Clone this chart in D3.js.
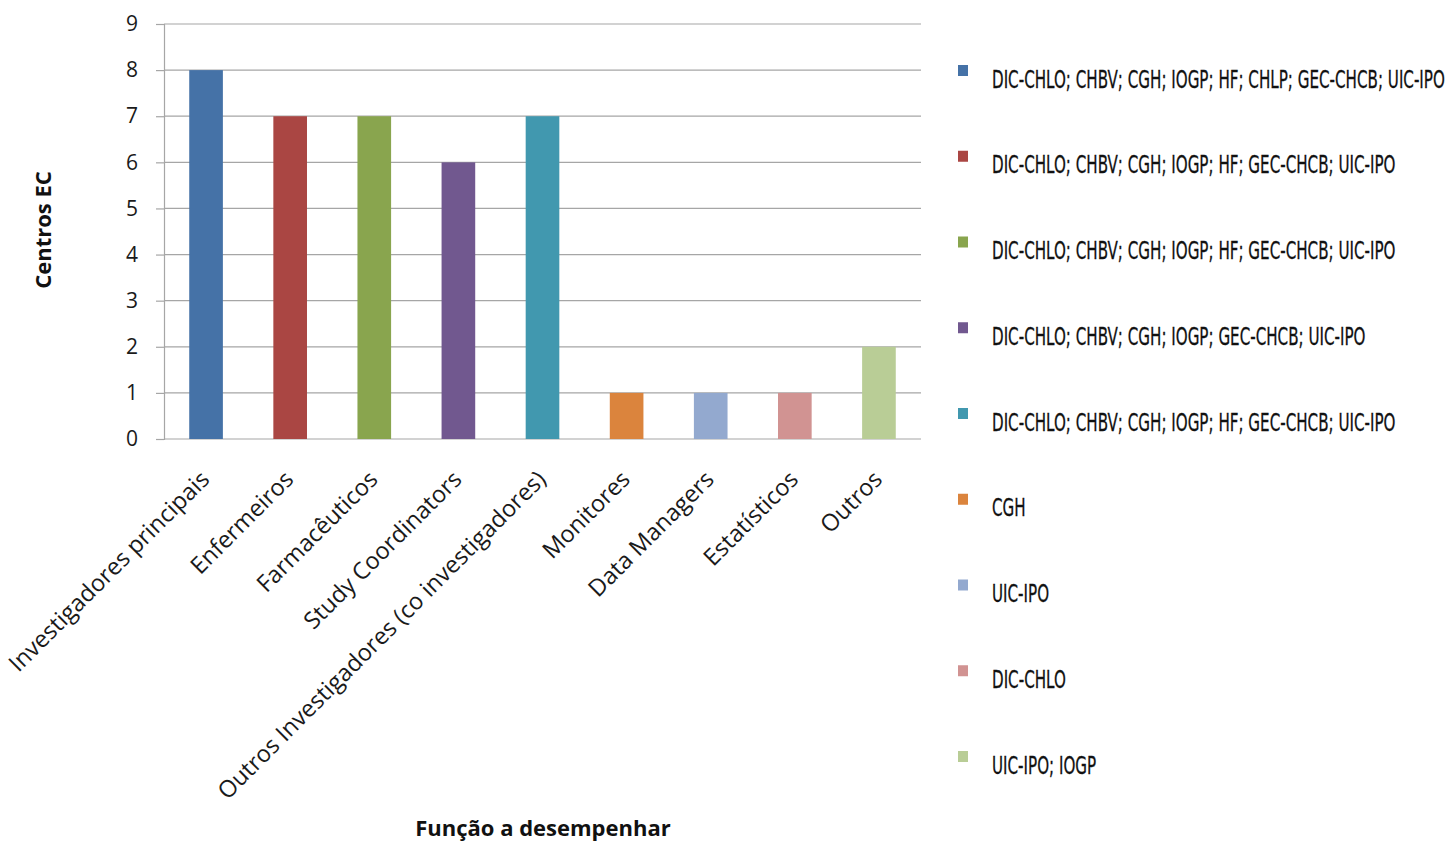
<!DOCTYPE html>
<html><head><meta charset="utf-8">
<script src="https://cdn.jsdelivr.net/npm/d3@7"></script>
<style>
html,body{margin:0;padding:0;background:#fff;}
svg{display:block;}
</style></head>
<body>
<svg id="chart" width="1453" height="841"></svg>
<script>
const categories = ["Investigadores principais","Enfermeiros","Farmacêuticos","Study Coordinators","Outros Investigadores (co investigadores)","Monitores","Data Managers","Estatísticos","Outros"];
const values = [8,7,7,6,7,1,1,1,2];
const legendLabels = [
  "DIC-CHLO; CHBV; CGH; IOGP; HF; CHLP; GEC-CHCB; UIC-IPO",
  "DIC-CHLO; CHBV; CGH; IOGP; HF; GEC-CHCB; UIC-IPO",
  "DIC-CHLO; CHBV; CGH; IOGP; HF; GEC-CHCB; UIC-IPO",
  "DIC-CHLO; CHBV; CGH; IOGP; GEC-CHCB; UIC-IPO",
  "DIC-CHLO; CHBV; CGH; IOGP; HF; GEC-CHCB; UIC-IPO",
  "CGH",
  "UIC-IPO",
  "DIC-CHLO",
  "UIC-IPO; IOGP"
];
const colors = ["#4572A7","#AA4643","#89A54E","#71588F","#4198AF","#DB843D","#93A9CF","#D19392","#B9CD96"];
const yTicks = [0,1,2,3,4,5,6,7,8,9];
const yTitle = "Centros  EC";
const xTitle = "Função a desempenhar";

const svg = d3.select("#chart");
const pLeft = 164, pRight = 921, pTop = 24, pBottom = 439;
const font = "'Open Sans', sans-serif";

const x = d3.scaleBand().domain(categories).range([pLeft, pRight]).paddingInner(0.6).paddingOuter(0.3);
const y = d3.scaleLinear().domain([0, 9]).range([pBottom, pTop]);

// gridlines
svg.append("g").selectAll("line").data(yTicks).join("line")
  .attr("x1", pLeft).attr("x2", pRight)
  .attr("y1", d => y(d)).attr("y2", d => y(d))
  .attr("stroke", "#a6a6a6").attr("stroke-width", 1.2);

// y axis
const yAxis = svg.append("g").attr("transform", `translate(${pLeft},0)`)
  .call(d3.axisLeft(y).tickValues(yTicks).tickSize(8).tickPadding(18).tickFormat(d3.format("d")));
yAxis.select(".domain").attr("stroke", "#a6a6a6").attr("stroke-width", 1.2);
yAxis.selectAll(".tick line").attr("stroke", "#a6a6a6").attr("stroke-width", 1.2);
yAxis.selectAll(".tick text").attr("font-family", font).attr("font-size", 21).attr("fill", "#1a1a1a");

// bars
svg.append("g").selectAll("rect").data(values).join("rect")
  .attr("x", (d, i) => x(categories[i]))
  .attr("width", x.bandwidth())
  .attr("y", d => y(d))
  .attr("height", d => y(0) - y(d))
  .attr("fill", (d, i) => colors[i]);

// category labels
svg.append("g").selectAll("text").data(categories).join("text")
  .attr("transform", d => `translate(${x(d) + x.bandwidth()/2 - 1},${pBottom + 36}) rotate(-45)`)
  .attr("text-anchor", "end")
  .attr("dy", "0.35em")
  .attr("font-family", font).attr("font-size", 23.5).attr("fill", "#1a1a1a")
  .text(d => d);

// axis titles
svg.append("text").attr("transform", `translate(51,230) rotate(-90)`)
  .attr("text-anchor", "middle").attr("font-family", font).attr("font-weight", "bold")
  .attr("font-size", 22).attr("fill", "#111").text(yTitle);
svg.append("text").attr("x", 543).attr("y", 836)
  .attr("text-anchor", "middle").attr("font-family", font).attr("font-weight", "bold")
  .attr("font-size", 22).attr("fill", "#111").text(xTitle);

// legend
const legY = d3.scaleLinear().domain([0, 8]).range([70, 756]);
const leg = svg.append("g");
const items = leg.selectAll("g").data(legendLabels).join("g")
  .attr("transform", (d, i) => `translate(0,${legY(i)})`);
items.append("rect").attr("x", 958).attr("y", -5).attr("width", 10).attr("height", 11)
  .attr("fill", (d, i) => colors[i]);
const texts = items.append("text")
  .attr("font-family", "'Liberation Sans Narrow','DejaVu Sans Condensed','Liberation Sans',sans-serif")
  .attr("font-size", 25).attr("fill", "#111")
  .attr("stroke", "#111").attr("stroke-width", 0.3)
  .text(d => d);
const measured = texts.nodes()[0].getComputedTextLength();
const sx = 453 / measured;
texts.attr("transform", `translate(992,17.5) scale(${sx},1)`);
</script>
</body></html>
